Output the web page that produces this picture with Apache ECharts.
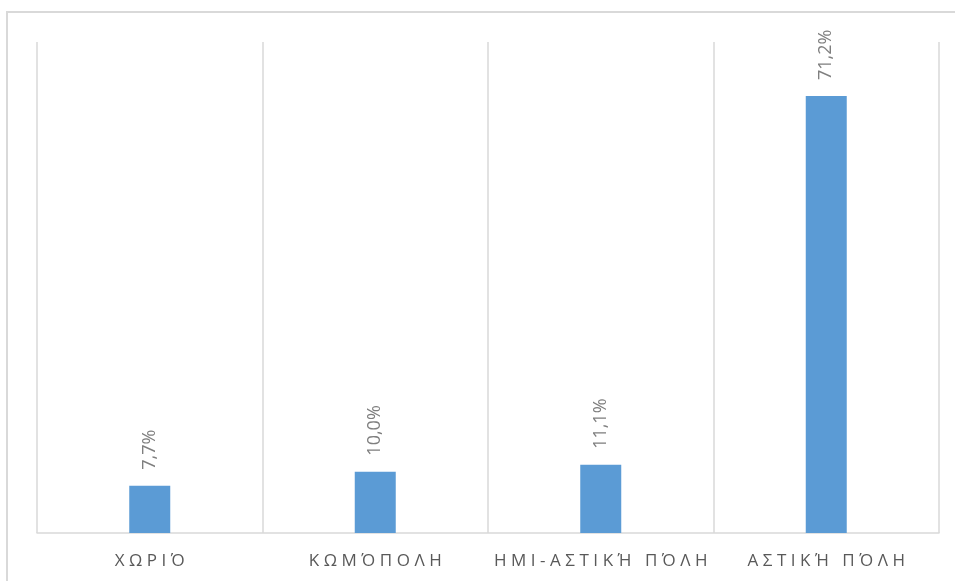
<!DOCTYPE html>
<html>
<head>
<meta charset="utf-8">
<script src="https://cdn.jsdelivr.net/npm/echarts@6/dist/echarts.min.js"></script>
<style>
    html, body { margin: 0; padding: 0; background: #ffffff; }
    #chart { width: 955px; height: 581px; }
</style>
</head>
<body>
<div id="chart"></div>
<script>
const categories = ["ΧΩΡΙΌ", "ΚΩΜΌΠΟΛΗ", "ΗΜΙ-ΑΣΤΙΚΉ ΠΌΛΗ", "ΑΣΤΙΚΉ ΠΌΛΗ"];
const shares = [7.7, 10.0, 11.1, 71.2];

const GRID_COLOR = "#d9d9d9";
const FONT = "'Open Sans', 'Noto Sans', sans-serif";

function spaced(text) {
    return Array.from(text).join("\u2009\u200A");
}

function percentLabel(value) {
    return value.toFixed(1).replace(".", ",") + "%";
}

const chart = echarts.init(document.getElementById("chart"));

chart.setOption({
    backgroundColor: "#ffffff",
    animation: false,
    graphic: [
        {
            type: "rect",
            shape: { x: 7, y: 12, width: 1000, height: 1000 },
            style: { fill: "none", stroke: GRID_COLOR, lineWidth: 2 },
            silent: true,
        },
    ],
    grid: {
        left: 37,
        right: 16,
        top: 42,
        bottom: 48,
    },
    xAxis: {
        type: "category",
        data: categories,
        boundaryGap: true,
        axisLine: { show: true, lineStyle: { color: GRID_COLOR, width: 1.5 } },
        axisTick: { show: false },
        splitLine: { show: true, interval: 0, lineStyle: { color: GRID_COLOR, width: 1.5 } },
        axisLabel: {
            interval: 0,
            color: "#595959",
            fontFamily: FONT,
            fontSize: 17,
            margin: 20,
            formatter: (value) => spaced(value),
        },
    },
    yAxis: {
        type: "value",
        min: 0,
        max: 80,
        show: false,
        splitLine: { show: false },
    },
    series: [
        {
            type: "bar",
            data: shares,
            barWidth: 41,
            itemStyle: { color: "#5b9bd5" },
            label: {
                show: true,
                position: "top",
                rotate: 90,
                align: "left",
                verticalAlign: "middle",
                distance: 16,
                color: "#7f7f7f",
                fontFamily: FONT,
                fontSize: 18,
                formatter: (p) => percentLabel(p.value),
            },
        },
    ],
});
</script>
</body>
</html>
